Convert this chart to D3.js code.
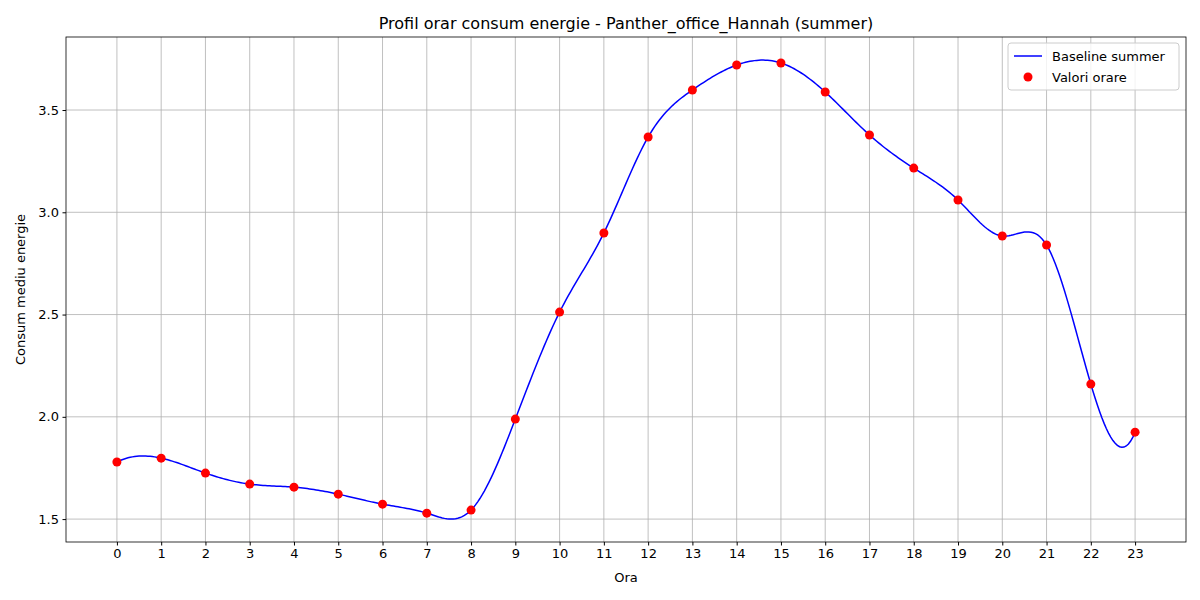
<!DOCTYPE html>
<html><head><meta charset="utf-8">
<script src="https://cdn.jsdelivr.net/npm/d3@7"></script>
<style>body{margin:0;background:#fff;font-family:"DejaVu Sans",sans-serif;}</style>
</head><body>
<svg id="chart" width="1200" height="600"></svg>
<script>
const hours = d3.range(24);
const consum = [1.779, 1.798, 1.725, 1.671, 1.656, 1.622, 1.573, 1.529, 1.544, 1.989,
  2.512, 2.899, 3.368, 3.598, 3.720, 3.730, 3.588, 3.378, 3.216, 3.060, 2.884, 2.840, 2.160, 1.925];
const yTicks = [1.5, 2.0, 2.5, 3.0, 3.5];

// not-a-knot cubic spline through the hourly values (unit spacing)
function spline(ys, steps) {
  const n = ys.length, A = [], b = [];
  for (let i = 0; i < n; i++) { A.push(new Array(n).fill(0)); b.push(0); }
  A[0][0] = 1; A[0][1] = -2; A[0][2] = 1;
  A[n-1][n-3] = 1; A[n-1][n-2] = -2; A[n-1][n-1] = 1;
  for (let i = 1; i < n - 1; i++) {
    A[i][i-1] = 1; A[i][i] = 4; A[i][i+1] = 1;
    b[i] = 6 * (ys[i+1] - 2 * ys[i] + ys[i-1]);
  }
  for (let c = 0; c < n; c++) {
    let p = c;
    for (let r = c + 1; r < n; r++) if (Math.abs(A[r][c]) > Math.abs(A[p][c])) p = r;
    [A[c], A[p]] = [A[p], A[c]]; [b[c], b[p]] = [b[p], b[c]];
    for (let r = c + 1; r < n; r++) {
      const f = A[r][c] / A[c][c];
      for (let k = c; k < n; k++) A[r][k] -= f * A[c][k];
      b[r] -= f * b[c];
    }
  }
  const M = new Array(n).fill(0);
  for (let r = n - 1; r >= 0; r--) {
    let s = b[r];
    for (let k = r + 1; k < n; k++) s -= A[r][k] * M[k];
    M[r] = s / A[r][r];
  }
  const out = [];
  for (let i = 0; i < n - 1; i++) {
    for (let s = 0; s < steps; s++) {
      const t = s / steps, u = 1 - t;
      out.push([i + t, u * ys[i] + t * ys[i+1] + ((u*u*u - u) * M[i] + (t*t*t - t) * M[i+1]) / 6]);
    }
  }
  out.push([n - 1, ys[n - 1]]);
  return out;
}

const svg = d3.select("#chart");
const m = {left: 66, right: 1186, top: 37, bottom: 542};
const x = d3.scaleLinear().domain([-1.15, 24.15]).range([m.left, m.right]);
const y = d3.scaleLinear().domain([1.388, 3.857]).range([m.bottom, m.top]);

const grid = svg.append("g");
hours.forEach(h => grid.append("line").attr("x1", x(h)).attr("x2", x(h))
  .attr("y1", m.top).attr("y2", m.bottom).attr("stroke", "#b0b0b0").attr("stroke-width", 0.8));
yTicks.forEach(t => grid.append("line").attr("y1", y(t)).attr("y2", y(t))
  .attr("x1", m.left).attr("x2", m.right).attr("stroke", "#b0b0b0").attr("stroke-width", 0.8));

svg.append("g").attr("transform", `translate(0,${m.bottom})`)
  .call(d3.axisBottom(x).tickValues(hours).tickSize(3.5).tickPadding(3.5).tickFormat(d3.format("d")))
  .call(g => g.select(".domain").remove())
  .selectAll("text").attr("font-size", 13).attr("fill", "#000").attr("font-family", "DejaVu Sans");
svg.append("g").attr("transform", `translate(${m.left},0)`)
  .call(d3.axisLeft(y).tickValues(yTicks).tickSize(3.5).tickPadding(3.5).tickFormat(d3.format(".1f")))
  .call(g => g.select(".domain").remove())
  .selectAll("text").attr("font-size", 13).attr("fill", "#000").attr("font-family", "DejaVu Sans");

const pts = hours.map((h, i) => [h, consum[i]]);
svg.append("path").datum(spline(consum, 20))
  .attr("d", d3.line().x(d => x(d[0])).y(d => y(d[1])))
  .attr("fill", "none").attr("stroke", "#0000ff").attr("stroke-width", 1.5);
svg.append("g").selectAll("circle").data(pts).join("circle")
  .attr("cx", d => x(d[0])).attr("cy", d => y(d[1])).attr("r", 4.5).attr("fill", "#ff0000");

svg.append("rect").attr("x", m.left).attr("y", m.top).attr("width", m.right - m.left)
  .attr("height", m.bottom - m.top).attr("fill", "none").attr("stroke", "#000").attr("stroke-width", 0.8);

svg.append("text").attr("x", (m.left + m.right) / 2).attr("y", 29).attr("text-anchor", "middle")
  .attr("font-size", 16).text("Profil orar consum energie - Panther_office_Hannah (summer)");
svg.append("text").attr("x", (m.left + m.right) / 2).attr("y", 582).attr("text-anchor", "middle")
  .attr("font-size", 13).text("Ora");
svg.append("text").attr("transform", `translate(25,${(m.top + m.bottom) / 2}) rotate(-90)`)
  .attr("text-anchor", "middle").attr("font-size", 13).text("Consum mediu energie");

const lg = svg.append("g").attr("transform", "translate(1008,43)");
lg.append("rect").attr("width", 171).attr("height", 47).attr("rx", 3)
  .attr("fill", "#fff").attr("fill-opacity", 0.8).attr("stroke", "#ccc");
lg.append("line").attr("x1", 6).attr("x2", 34).attr("y1", 13).attr("y2", 13)
  .attr("stroke", "#0000ff").attr("stroke-width", 1.5);
lg.append("text").attr("x", 44).attr("y", 18).attr("font-size", 13).text("Baseline summer");
lg.append("circle").attr("cx", 20).attr("cy", 34).attr("r", 4.5).attr("fill", "#ff0000");
lg.append("text").attr("x", 44).attr("y", 39).attr("font-size", 13).text("Valori orare");
</script>
</body></html>
